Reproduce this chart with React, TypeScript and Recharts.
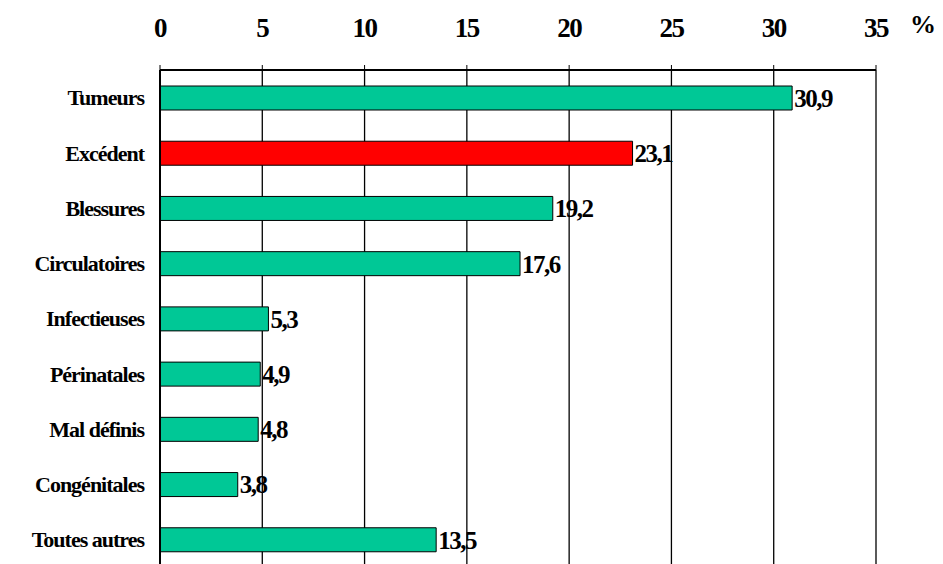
import { BarChart, Bar, XAxis, YAxis, CartesianGrid, LabelList, Cell } from "recharts";

const categories = ["Tumeurs", "Excédent", "Blessures", "Circulatoires", "Infectieuses", "Périnatales", "Mal définis", "Congénitales", "Toutes autres"];
const values = [30.9, 23.1, 19.2, 17.6, 5.3, 4.9, 4.8, 3.8, 13.5];
const xTicks = [0, 5, 10, 15, 20, 25, 30, 35];

const data = categories.map((name, i) => ({ name, value: values[i] }));
const font = "'Liberation Serif', 'Times New Roman', serif";

export default function App() {
  return (
    <div style={{ position: "absolute", left: 0, top: 0, width: 943, height: 564, overflow: "hidden", background: "#fff", fontFamily: font }}>
      <BarChart width={943} height={580} data={data} layout="vertical" margin={{ top: 30, right: 67, bottom: 13, left: 4 }} barSize={24}>
        <CartesianGrid horizontal={false} vertical stroke="#000" strokeWidth={1.3} />
        <XAxis
          type="number"
          orientation="top"
          domain={[0, 35]}
          ticks={xTicks}
          height={40}
          tick={{ fill: "#000", fontSize: 27, fontWeight: "bold", fontFamily: font, letterSpacing: -1.5 }}
          axisLine={{ stroke: "#000", strokeWidth: 2 }}
          tickLine={{ stroke: "#000" }}
          tickSize={5}
          tickMargin={28}
        />
        <YAxis
          type="category"
          dataKey="name"
          width={156}
          tick={{ fill: "#000", fontSize: 22, fontWeight: "bold", fontFamily: font, letterSpacing: -1 }}
          axisLine={{ stroke: "#000", strokeWidth: 2 }}
          tickLine={false}
          tickMargin={10}
        />
        <Bar dataKey="value" stroke="#000" strokeWidth={1} isAnimationActive={false}>
          {data.map((d, i) => (
            <Cell key={i} fill={d.name === "Excédent" ? "#ff0000" : "#00c896"} />
          ))}
          <LabelList
            dataKey="value"
            position="right"
            offset={2}
            formatter={(v: number) => String(v).replace(".", ",")}
            style={{ fill: "#000", fontSize: 25, fontWeight: "bold", fontFamily: font, letterSpacing: -1.5 }}
          />
        </Bar>
      </BarChart>
      <span style={{ position: "absolute", left: 910, top: 10, fontSize: 26, fontWeight: "bold" }}>%</span>
    </div>
  );
}
